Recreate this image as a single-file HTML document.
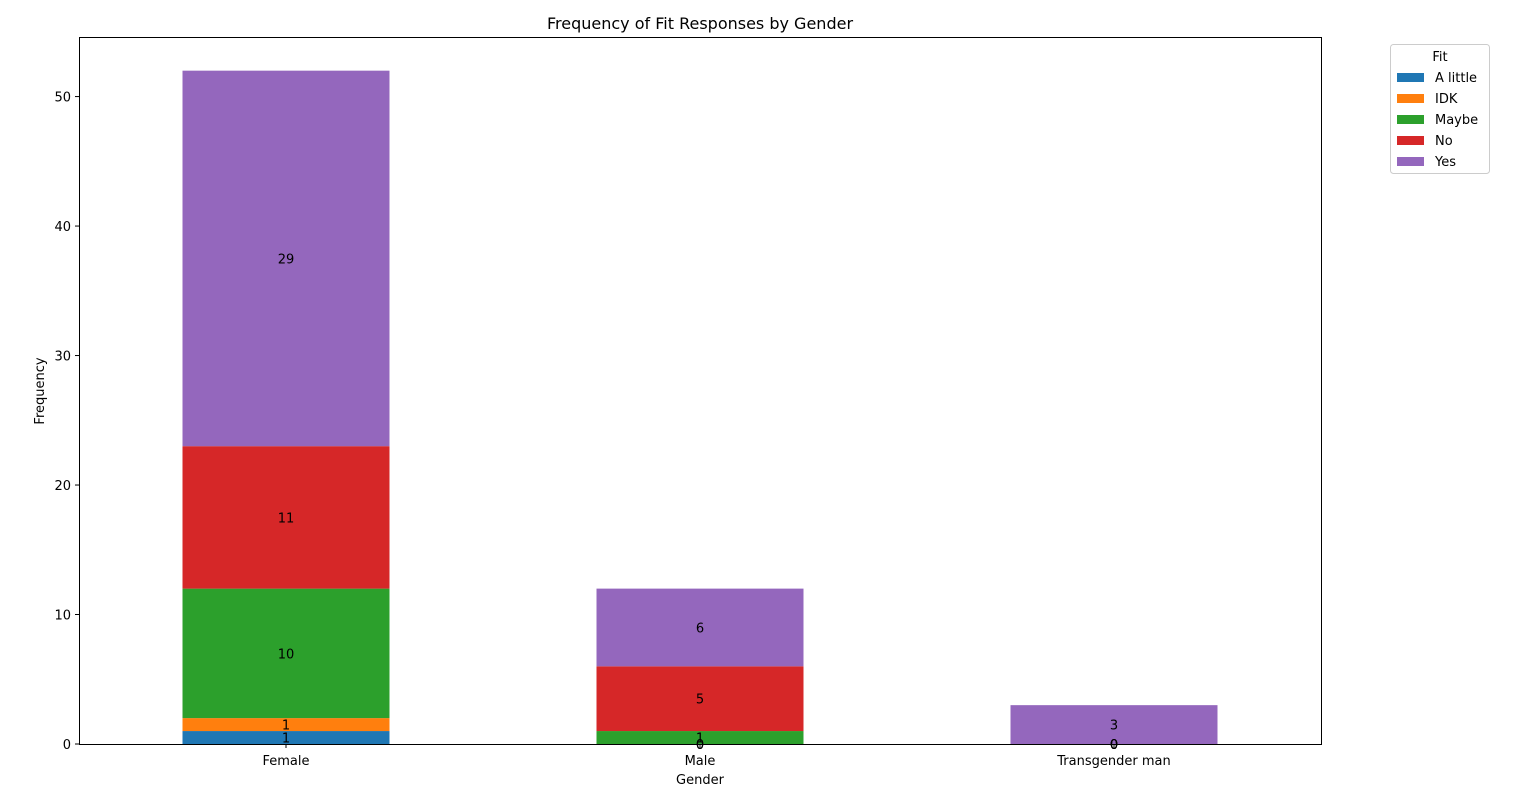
<!DOCTYPE html>
<html><head><meta charset="utf-8"><style>
body{margin:0;background:#fff;}
svg text{font-family:"DejaVu Sans","Liberation Sans",sans-serif;}
</style></head><body>
<svg id="chart" width="1536" height="802">
<rect width="1536" height="802" fill="#fff"/>
<text x="700" y="29" text-anchor="middle" font-size="16">Frequency of Fit Responses by Gender</text>
<g id="bars"></g>
<g id="labels"></g>
<rect x="79.5" y="37.5" width="1242" height="707" fill="none" stroke="#000" stroke-width="1"/>
<g id="yticks"></g>
<g id="xticks"></g>
<text x="700" y="784" text-anchor="middle" font-size="13">Gender</text>
<text transform="translate(44,391) rotate(-90)" text-anchor="middle" font-size="13">Frequency</text>
<g id="legend">
<rect x="1390.5" y="44.5" width="99" height="129" rx="3" fill="#fff" stroke="#ccc"/>
<text x="1440" y="61" text-anchor="middle" font-size="13">Fit</text>
</g>
</svg>
<script>
const categories=["Female","Male","Transgender man"];
const seriesNames=["A little","IDK","Maybe","No","Yes"];
const colors=["#1f77b4","#ff7f0e","#2ca02c","#d62728","#9467bd"];
const aLittle=[1,0,0];
const idk=[1,0,0];
const maybe=[10,1,0];
const no=[11,5,0];
const yes=[29,6,3];
const yTicks=[0,10,20,30,40,50];
const series=[aLittle,idk,maybe,no,yes];
const ns="http://www.w3.org/2000/svg";
const X0=79,W=1242,Y0=744,YTOP=37,YMAX=54.6;
const xs=i=>X0+(i+0.5)*W/categories.length;
const ys=v=>Y0-v*(Y0-YTOP)/YMAX;
const bw=0.5*W/categories.length;
function mk(t,a){const e=document.createElementNS(ns,t);for(const k in a)e.setAttribute(k,a[k]);return e;}
const gb=document.getElementById('bars'),gl=document.getElementById('labels');
categories.forEach((c,i)=>{
 let base=0;
 series.forEach((s,k)=>{
  const v=s[i];
  const r=mk('rect',{x:xs(i)-bw/2,y:ys(base+v),width:bw,height:ys(base)-ys(base+v),fill:colors[k]});
  
  
  gb.appendChild(r);
  const t=mk('text',{x:xs(i),y:ys(base+v/2)+5,'text-anchor':'middle','font-size':13});
  t.textContent=v;
  
  
  gl.appendChild(t);
  base+=v;
 });
});
const gy=document.getElementById('yticks');
yTicks.forEach(v=>{
 gy.appendChild(mk('line',{x1:X0-4,x2:X0,y1:ys(v),y2:ys(v),stroke:'#000'}));
 const t=mk('text',{x:X0-8,y:ys(v)+5,'text-anchor':'end','font-size':13});
 t.textContent=v;
 
 
 gy.appendChild(t);
});
const gx=document.getElementById('xticks');
categories.forEach((c,i)=>{
 gx.appendChild(mk('line',{x1:xs(i),x2:xs(i),y1:Y0,y2:Y0+4,stroke:'#000'}));
 const t=mk('text',{x:xs(i),y:765,'text-anchor':'middle','font-size':13});
 t.textContent=c;
 
 
 gx.appendChild(t);
});
const lg=document.getElementById('legend');
seriesNames.forEach((n,k)=>{
 const y=77+k*21;
 const r=mk('rect',{x:1397,y:y-4,width:27,height:9,fill:colors[k]});
 
 
 lg.appendChild(r);
 const t=mk('text',{x:1435,y:y+5,'font-size':13});
 t.textContent=n;
 
 
 lg.appendChild(t);
});
</script>
</body></html>
